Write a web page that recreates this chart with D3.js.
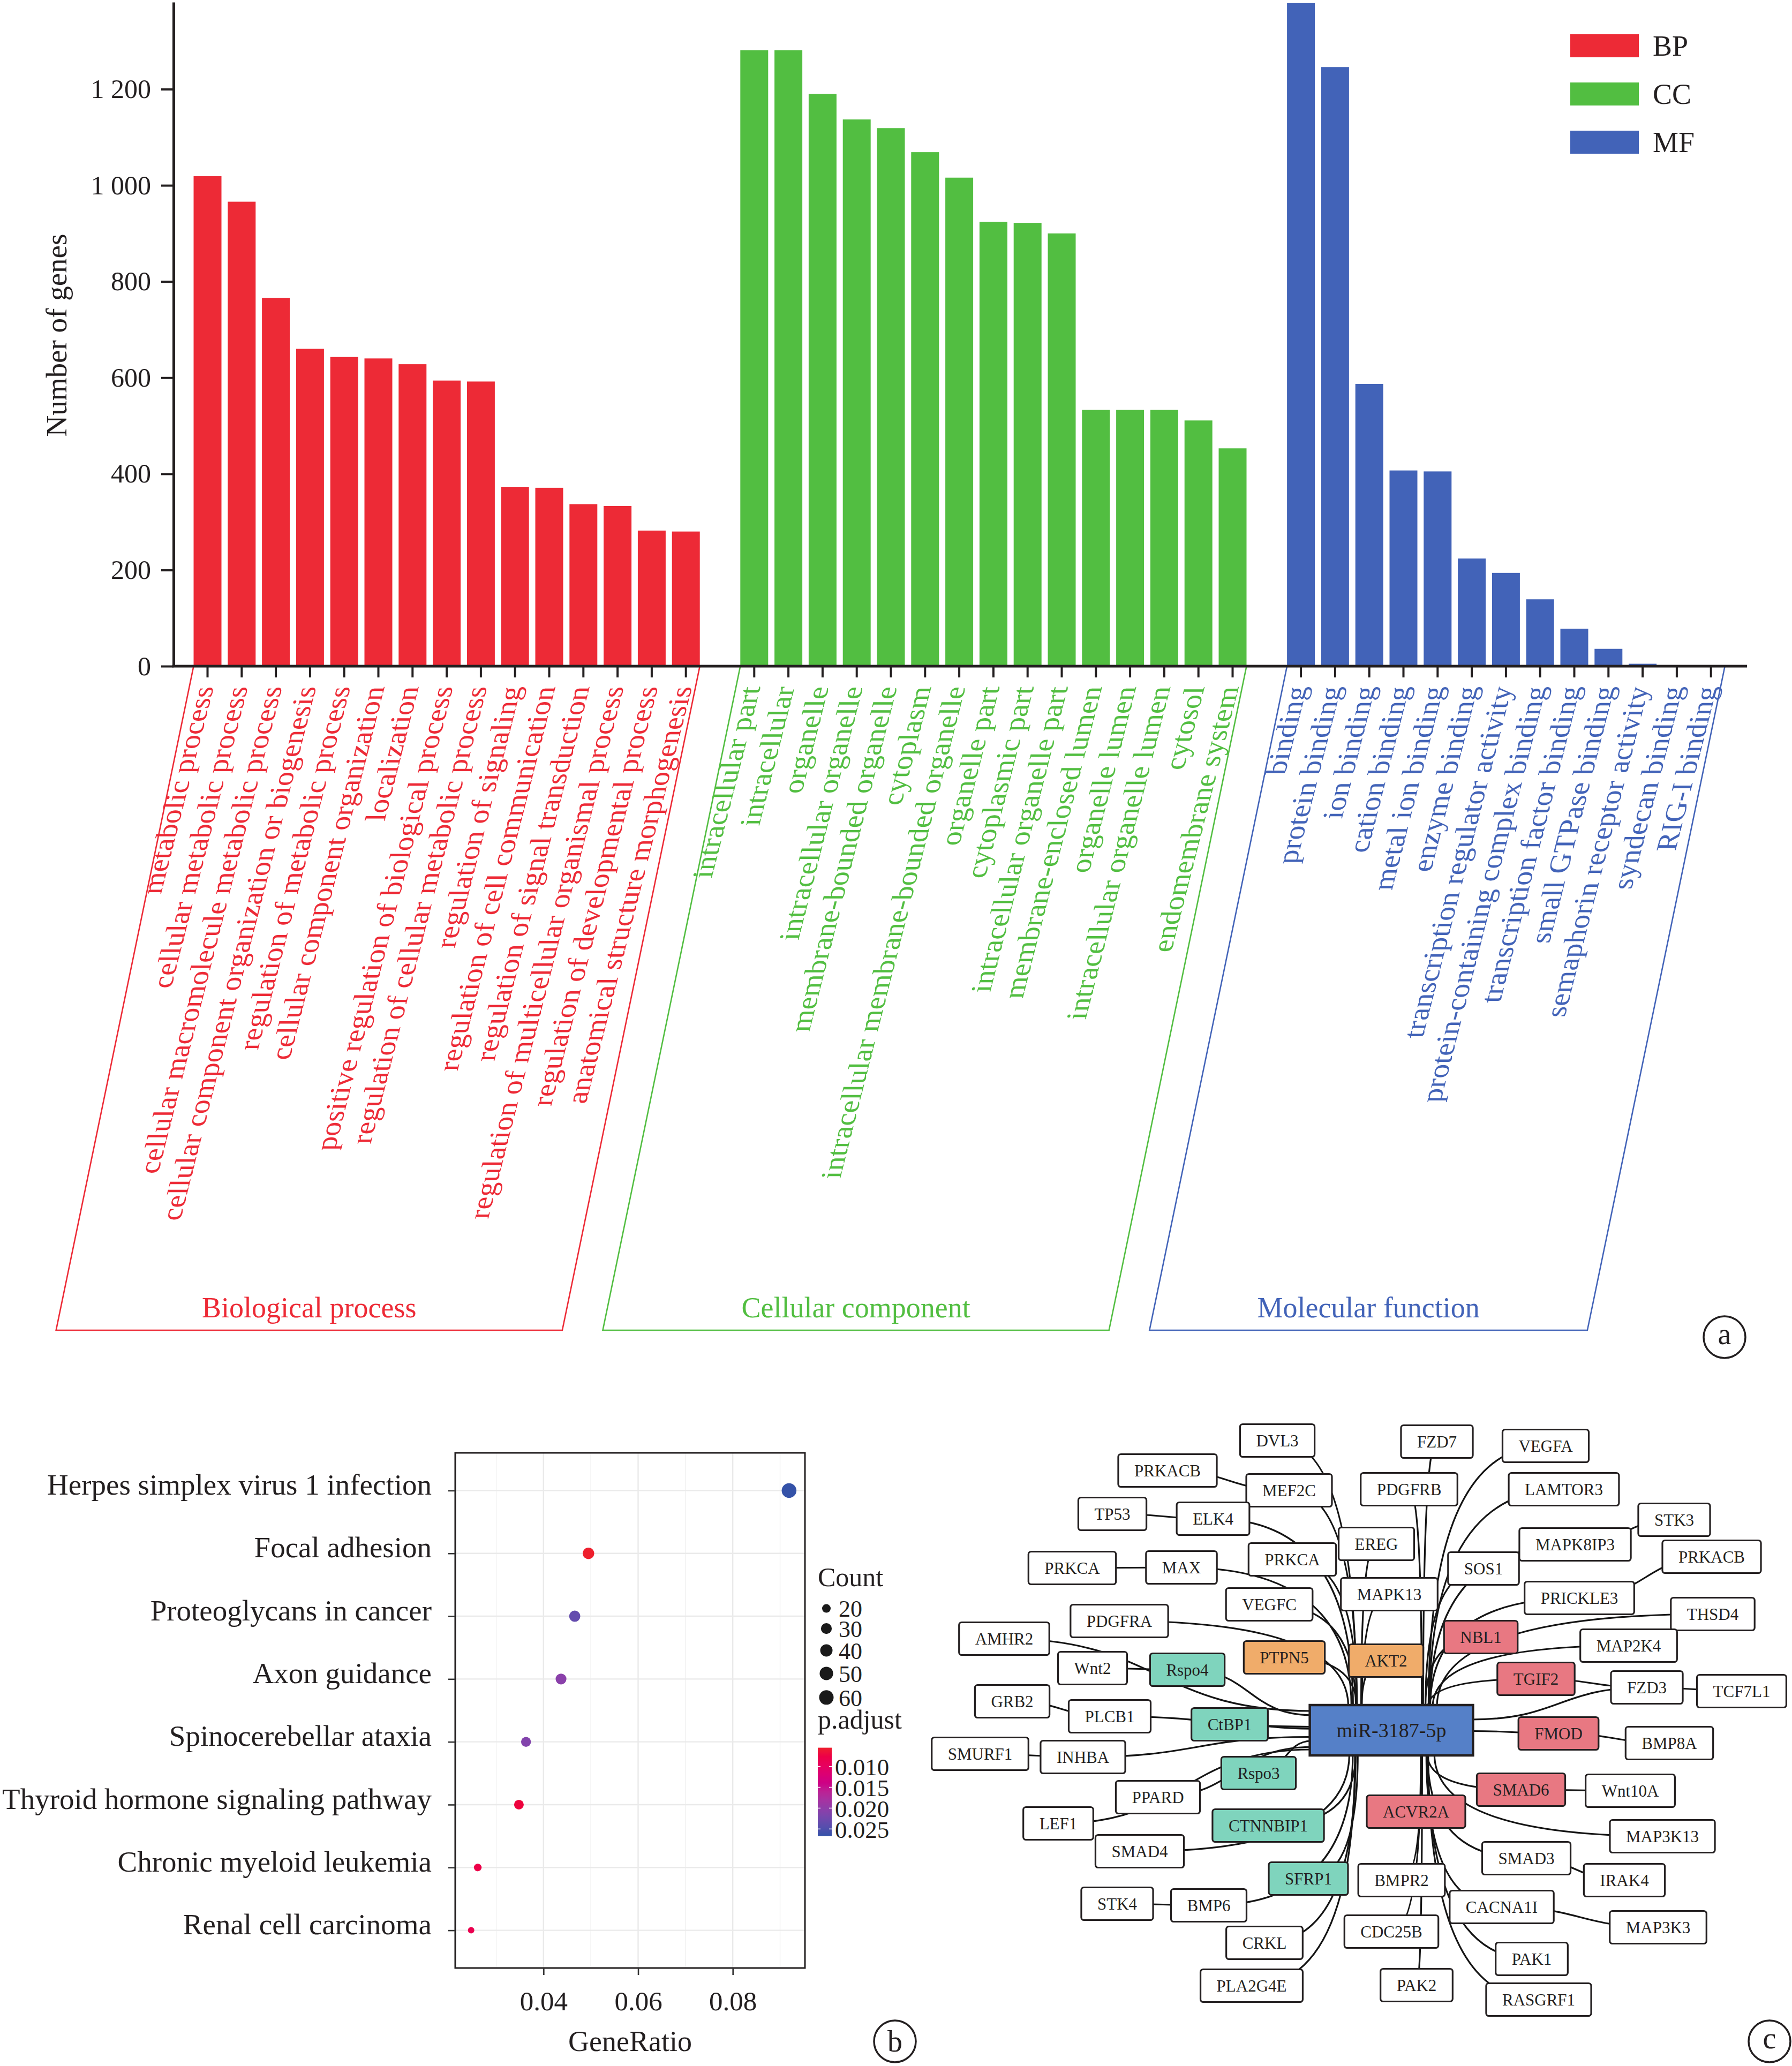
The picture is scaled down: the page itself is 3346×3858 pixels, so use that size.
<!DOCTYPE html>
<html>
<head>
<meta charset="utf-8">
<script src="https://cdn.jsdelivr.net/npm/d3@7"></script>
<style>
  body { margin: 0; background: #fff; }
  svg { display: block; }
</style>
</head>
<body>
<div id="chart"></div>
<script>
// ---------- panel a : GO terms ----------
var bpTerms = ["metabolic process", "cellular metabolic process", "cellular macromolecule metabolic process",
  "cellular component organization or biogenesis", "regulation of metabolic process", "cellular component organization",
  "localization", "positive regulation of biological process", "regulation of cellular metabolic process",
  "regulation of signaling", "regulation of cell communication", "regulation of signal transduction",
  "regulation of multicellular organismal process", "regulation of developmental process", "anatomical structure morphogenesis"];
var bpCounts = [1019, 966, 766, 660, 643, 640, 628, 594, 592, 373, 371, 337, 333, 282, 280];

var ccTerms = ["intracellular part", "intracellular", "organelle", "intracellular organelle", "membrane-bounded organelle",
  "cytoplasm", "intracellular membrane-bounded organelle", "organelle part", "cytoplasmic part", "intracellular organelle part",
  "membrane-enclosed lumen", "organelle lumen", "intracellular organelle lumen", "cytosol", "endomembrane system"];
var ccCounts = [1281, 1281, 1190, 1137, 1119, 1069, 1016, 924, 922, 900, 533, 533, 533, 511, 453];

var mfTerms = ["binding", "protein binding", "ion binding", "cation binding", "metal ion binding", "enzyme binding",
  "transcription regulator activity", "protein-containing complex binding", "transcription factor binding",
  "small GTPase binding", "semaphorin receptor activity", "syndecan binding", "RIG-I binding"];
var mfCounts = [1379, 1246, 587, 407, 405, 224, 194, 139, 78, 36, 5, 2, 1];

var yTicksA = [0, 200, 400, 600, 800, 1000, 1200];

// ---------- panel b : KEGG dot plot ----------
var pathways = ["Herpes simplex virus 1 infection", "Focal adhesion", "Proteoglycans in cancer", "Axon guidance",
  "Spinocerebellar ataxia", "Thyroid hormone signaling pathway", "Chronic myeloid leukemia", "Renal cell carcinoma"];
var geneRatio = [0.0919, 0.0495, 0.0466, 0.0437, 0.0363, 0.0348, 0.0261, 0.0247];
var geneCount = [63, 34, 32, 30, 25, 24, 18, 17];
var pAdjust = [0.0267, 0.0055, 0.0235, 0.0205, 0.0212, 0.0068, 0.0078, 0.0085];
var xTicksB = [0.04, 0.06, 0.08];
var countBreaks = [20, 30, 40, 50, 60];
var padjBreaks = [0.010, 0.015, 0.020, 0.025];

// ---------- panel c : miRNA network (layout coords) ----------
var netNodes = [
  ["miR", "miR-3187-5p", 898, 631, "mir"],
  ["DVL3", "DVL3", 685, 90, "w"], ["FZD7", "FZD7", 983, 92, "w"], ["VEGFA", "VEGFA", 1186, 100, "w"],
  ["PRKACB_L", "PRKACB", 480, 146, "w"], ["MEF2C", "MEF2C", 707, 183, "w"], ["PDGFRB", "PDGFRB", 931, 181, "w"],
  ["LAMTOR3", "LAMTOR3", 1220, 181, "w"], ["TP53", "TP53", 377, 227, "w"], ["ELK4", "ELK4", 565, 236, "w"],
  ["STK3", "STK3", 1426, 238, "w"], ["EREG", "EREG", 870, 283, "w"], ["MAPK8IP3", "MAPK8IP3", 1241, 284, "w"],
  ["PRKACB_R", "PRKACB", 1496, 307, "w"], ["PRKCA_L", "PRKCA", 302, 328, "w"], ["MAX", "MAX", 506, 327, "w"],
  ["PRKCA_M", "PRKCA", 713, 312, "w"], ["SOS1", "SOS1", 1070, 329, "w"], ["MAPK13", "MAPK13", 894, 377, "w"],
  ["VEGFC", "VEGFC", 670, 396, "w"], ["PRICKLE3", "PRICKLE3", 1249, 384, "w"], ["THSD4", "THSD4", 1498, 414, "w"],
  ["PDGFRA", "PDGFRA", 390, 427, "w"], ["NBL1", "NBL1", 1065, 457, "r"], ["AMHR2", "AMHR2", 175, 460, "w"],
  ["MAP2K4", "MAP2K4", 1341, 473, "w"], ["PTPN5", "PTPN5", 698, 495, "o"], ["AKT2", "AKT2", 888, 501, "o"],
  ["Wnt2", "Wnt2", 340, 515, "w"], ["Rspo4", "Rspo4", 517, 518, "t"], ["TGIF2", "TGIF2", 1168, 535, "r"],
  ["FZD3", "FZD3", 1375, 551, "w"], ["TCF7L1", "TCF7L1", 1552, 558, "w"], ["GRB2", "GRB2", 190, 577, "w"],
  ["PLCB1", "PLCB1", 372, 605, "w"], ["CtBP1", "CtBP1", 596, 620, "t"], ["FMOD", "FMOD", 1210, 637, "r"],
  ["BMP8A", "BMP8A", 1417, 655, "w"], ["SMURF1", "SMURF1", 130, 675, "w"], ["INHBA", "INHBA", 322, 681, "w"],
  ["Rspo3", "Rspo3", 650, 711, "t"], ["SMAD6", "SMAD6", 1140, 742, "r"], ["Wnt10A", "Wnt10A", 1344, 744, "w"],
  ["PPARD", "PPARD", 462, 756, "w"], ["ACVR2A", "ACVR2A", 944, 783, "r"], ["LEF1", "LEF1", 276, 805, "w"],
  ["CTNNBIP1", "CTNNBIP1", 668, 809, "t"], ["MAP3K13", "MAP3K13", 1404, 829, "w"], ["SMAD4", "SMAD4", 428, 857, "w"],
  ["SMAD3", "SMAD3", 1150, 870, "w"], ["SFRP1", "SFRP1", 743, 908, "t"], ["BMPR2", "BMPR2", 917, 911, "w"],
  ["IRAK4", "IRAK4", 1333, 911, "w"], ["STK4", "STK4", 386, 955, "w"], ["BMP6", "BMP6", 557, 958, "w"],
  ["CACNA1I", "CACNA1I", 1104, 961, "w"], ["MAP3K3", "MAP3K3", 1396, 999, "w"], ["CDC25B", "CDC25B", 898, 1007, "w"],
  ["CRKL", "CRKL", 661, 1028, "w"], ["PAK1", "PAK1", 1160, 1058, "w"], ["PLA2G4E", "PLA2G4E", 637, 1108, "w"],
  ["PAK2", "PAK2", 945, 1107, "w"], ["RASGRF1", "RASGRF1", 1173, 1134, "w"]
];
var mirTargets = ["DVL3", "FZD7", "VEGFA", "MEF2C", "PDGFRB", "LAMTOR3", "ELK4", "EREG", "MAPK8IP3", "PRKCA_M", "SOS1",
  "MAPK13", "VEGFC", "PRICKLE3", "THSD4", "PDGFRA", "NBL1", "AMHR2", "MAP2K4", "PTPN5", "AKT2", "Rspo4", "TGIF2", "FZD3",
  "CtBP1", "FMOD", "INHBA", "Rspo3", "SMAD6", "PPARD", "ACVR2A", "LEF1", "CTNNBIP1", "MAP3K13", "SMAD4", "SMAD3", "SFRP1",
  "BMPR2", "BMP6", "CACNA1I", "CDC25B", "CRKL", "PAK1", "PLA2G4E", "PAK2", "RASGRF1", "MAX", "PLCB1"];
var sideLinks = [["PRKACB_L", "MEF2C"], ["TP53", "ELK4"], ["PRKCA_L", "MAX"], ["Wnt2", "Rspo4"], ["GRB2", "PLCB1"],
  ["SMURF1", "INHBA"], ["STK4", "BMP6"], ["STK3", "MAPK8IP3"], ["TCF7L1", "FZD3"], ["BMP8A", "FMOD"],
  ["Wnt10A", "SMAD6"], ["IRAK4", "SMAD3"], ["MAP3K3", "CACNA1I"], ["PRKACB_R", "PRICKLE3"], ["TGIF2", "FZD3"]];

var SERIF = '"Liberation Serif","DejaVu Serif",serif';
var INK = "#231F20";

var svg = d3.select("#chart").append("svg")
  .attr("width", 3346).attr("height", 3858)
  .attr("font-family", SERIF);
svg.append("rect").attr("width", 3346).attr("height", 3858).attr("fill", "#fff");

// ================= panel a =================
var groups = [
  { key: "BP", title: "Biological process", terms: bpTerms, counts: bpCounts, color: "#ED2A36" },
  { key: "CC", title: "Cellular component", terms: ccTerms, counts: ccCounts, color: "#52BE41" },
  { key: "MF", title: "Molecular function", terms: mfTerms, counts: mfCounts, color: "#4263B8" }
];
var bandDomain = [];
groups.forEach(function (g, i) {
  if (i) bandDomain.push("__gap" + i);
  g.terms.forEach(function (t) { bandDomain.push(t); });
});

var axisY = 1244, axisX = 324;
var xA = d3.scaleBand().domain(bandDomain).range([355.6, 3226.6]).paddingInner(0.185).paddingOuter(0.0925);
var yA = d3.scaleLinear().domain([0, 1381]).range([axisY, 4]);
var gA = svg.append("g");

groups.forEach(function (g) {
  var rows = g.terms.map(function (t, i) { return { term: t, n: g.counts[i] }; });
  gA.selectAll(".bar-" + g.key).data(rows).enter().append("rect")
    .attr("x", function (d) { return xA(d.term); })
    .attr("y", function (d) { return yA(d.n); })
    .attr("width", xA.bandwidth())
    .attr("height", function (d) { return axisY - yA(d.n); })
    .attr("fill", g.color);

  // skewed labels under the axis
  gA.selectAll(".lab-" + g.key).data(rows).enter().append("text")
    .attr("transform", function (d) {
      return "translate(" + (xA(d.term) + xA.bandwidth() / 2) + ",1282) skewX(-14.3) rotate(-90)";
    })
    .attr("text-anchor", "end")
    .attr("dy", "0.22em")
    .attr("font-size", 54)
    .attr("fill", g.color)
    .text(function (d) { return d.term; });

  // parallelogram frame
  var x0 = xA(g.terms[0]), x1 = xA(g.terms[g.terms.length - 1]) + xA.bandwidth();
  var fy = 2484, shift = Math.tan(11.7 * Math.PI / 180) * (fy - axisY);
  gA.append("path")
    .attr("d", "M" + x0 + "," + axisY + "L" + (x0 - shift) + "," + fy + "L" + (x1 - shift) + "," + fy + "L" + x1 + "," + axisY)
    .attr("fill", "none").attr("stroke", g.color).attr("stroke-width", 2.6);
  gA.append("text")
    .attr("x", (x0 + x1) / 2 - shift).attr("y", 2460)
    .attr("text-anchor", "middle").attr("font-size", 54).attr("fill", g.color)
    .text(g.title);
});

var spaceFmt = d3.formatLocale({ decimal: ".", thousands: " ", grouping: [3], currency: ["", ""] }).format(",");
var gyA = gA.append("g").attr("transform", "translate(" + axisX + ",0)")
  .call(d3.axisLeft(yA).tickValues(yTicksA).tickFormat(spaceFmt).tickSize(23).tickPadding(19).tickSizeOuter(0))
  .attr("font-family", SERIF).attr("font-size", 50);
gyA.select(".domain").attr("stroke", INK).attr("stroke-width", 5);
gyA.selectAll(".tick line").attr("stroke", INK).attr("stroke-width", 4);
gyA.selectAll(".tick text").attr("fill", INK);

var allTerms = bpTerms.concat(ccTerms, mfTerms);
var gxA = gA.append("g").attr("transform", "translate(0," + axisY + ")")
  .call(d3.axisBottom(xA).tickValues(allTerms).tickFormat("").tickSize(21).tickSizeOuter(0));
gxA.select(".domain").remove();
gxA.selectAll(".tick line").attr("stroke", INK).attr("stroke-width", 4);
gA.append("line").attr("x1", axisX - 2.5).attr("x2", 3262).attr("y1", axisY).attr("y2", axisY)
  .attr("stroke", INK).attr("stroke-width", 5);

gA.append("text")
  .attr("transform", "translate(124,626) rotate(-90)")
  .attr("text-anchor", "middle").attr("font-size", 55).attr("fill", INK)
  .text("Number of genes");

// legend
var legA = gA.selectAll(".legA").data(groups).enter().append("g")
  .attr("transform", function (d, i) { return "translate(2932," + (64 + i * 90) + ")"; });
legA.append("rect").attr("width", 128).attr("height", 43).attr("fill", function (d) { return d.color; });
legA.append("text").attr("x", 154).attr("y", 40).attr("font-size", 54).attr("fill", INK)
  .text(function (d) { return d.key; });

function panelTag(cx, cy, letter) {
  svg.append("circle").attr("cx", cx).attr("cy", cy).attr("r", 39)
    .attr("fill", "#fff").attr("stroke", INK).attr("stroke-width", 3.5);
  svg.append("text").attr("x", cx).attr("y", cy).attr("dy", letter === "a" || letter === "c" ? "0.24em" : "0.34em")
    .attr("text-anchor", "middle").attr("font-size", 56).attr("fill", INK).text(letter);
}
panelTag(3220, 2497, "a");

// ================= panel b =================
var gB = svg.append("g");
var rExt = d3.extent(geneRatio), rPad = (rExt[1] - rExt[0]) * 0.05;
var xB = d3.scaleLinear().domain([rExt[0] - rPad, rExt[1] + rPad]).range([850, 1503]);
var yB = d3.scalePoint().domain(pathways).range([2713, 3675]).padding(0.6);
var cExt = d3.extent(geneCount);
var rScale = d3.scalePow().exponent(0.5).domain([0, cExt[1] - cExt[0]]).range([6, 13.75]);
var pExt = d3.extent(pAdjust);
var colB = d3.scaleLinear().domain(pExt).range(["#EE1F2D", "#3452A8"]).interpolate(d3.interpolateHcl);

// grid
var minorB = [0.03, 0.05, 0.07, 0.09];
gB.selectAll(".gminor").data(minorB).enter().append("line")
  .attr("x1", xB).attr("x2", xB).attr("y1", 2713).attr("y2", 3675)
  .attr("stroke", "#EFEFEF").attr("stroke-width", 1.3);
gB.selectAll(".gmajor").data(xTicksB).enter().append("line")
  .attr("x1", xB).attr("x2", xB).attr("y1", 2713).attr("y2", 3675)
  .attr("stroke", "#EAEAEA").attr("stroke-width", 2.4);
gB.selectAll(".grow").data(pathways).enter().append("line")
  .attr("x1", 850).attr("x2", 1503).attr("y1", yB).attr("y2", yB)
  .attr("stroke", "#EAEAEA").attr("stroke-width", 2.4);

var pts = pathways.map(function (p, i) {
  return { p: p, r: geneRatio[i], n: geneCount[i], q: pAdjust[i] };
});
gB.selectAll(".dot").data(pts).enter().append("circle")
  .attr("cx", function (d) { return xB(d.r); })
  .attr("cy", function (d) { return yB(d.p); })
  .attr("r", function (d) { return rScale(d.n - cExt[0]); })
  .attr("fill", function (d) { return colB(d.q); });

gB.append("rect").attr("x", 850).attr("y", 2713).attr("width", 653).attr("height", 962)
  .attr("fill", "none").attr("stroke", INK).attr("stroke-width", 3);

var gyB = gB.append("g").attr("transform", "translate(850,0)")
  .call(d3.axisLeft(yB).tickSize(13).tickPadding(31).tickSizeOuter(0))
  .attr("font-family", SERIF).attr("font-size", 55);
gyB.select(".domain").remove();
gyB.selectAll(".tick line").attr("stroke", "#333").attr("stroke-width", 2.6);
gyB.selectAll(".tick text").attr("fill", INK).attr("dy", "0.13em");

var gxB = gB.append("g").attr("transform", "translate(0,3675)")
  .call(d3.axisBottom(xB).tickValues(xTicksB).tickFormat(d3.format(".2f")).tickSize(13).tickPadding(30).tickSizeOuter(0))
  .attr("font-family", SERIF).attr("font-size", 51);
gxB.select(".domain").remove();
gxB.selectAll(".tick line").attr("stroke", "#333").attr("stroke-width", 2.6);
gxB.selectAll(".tick text").attr("fill", INK);

gB.append("text").attr("x", 1176.5).attr("y", 3830).attr("text-anchor", "middle")
  .attr("font-size", 54).attr("fill", INK).text("GeneRatio");

// size legend
gB.append("text").attr("x", 1527).attr("y", 2962).attr("font-size", 50).attr("fill", INK).text("Count");
var keyY = 3003.6, keys = [];
countBreaks.forEach(function (c, i) {
  var r = rScale(c - cExt[0]);
  if (i) keyY += 20.8 + 0.925 * (keys[i - 1].r + r);
  keys.push({ c: c, r: r, y: keyY });
});
var kg = gB.selectAll(".key").data(keys).enter().append("g");
kg.append("circle").attr("cx", 1543).attr("cy", function (d) { return d.y; })
  .attr("r", function (d) { return d.r; }).attr("fill", "#1A1A1A");
kg.append("text").attr("x", 1566).attr("y", function (d) { return d.y; }).attr("dy", "0.36em")
  .attr("font-size", 44).attr("fill", INK).text(function (d) { return d.c; });

// colour bar
gB.append("text").attr("x", 1527).attr("y", 3228).attr("font-size", 50).attr("fill", INK).text("p.adjust");
var cbY = d3.scaleLinear().domain(pExt).range([3263.6, 3428.6]);
var grad = svg.append("defs").append("linearGradient").attr("id", "padjGrad")
  .attr("x1", 0).attr("y1", 0).attr("x2", 0).attr("y2", 1);
d3.range(0, 1.0001, 0.1).forEach(function (t) {
  var v = pExt[0] + t * (pExt[1] - pExt[0]);
  grad.append("stop").attr("offset", t).attr("stop-color", colB(v));
});
gB.append("rect").attr("x", 1527).attr("y", cbY.range()[0]).attr("width", 26)
  .attr("height", cbY.range()[1] - cbY.range()[0]).attr("fill", "url(#padjGrad)");
gB.selectAll(".cbtl").data(padjBreaks).enter().append("line")
  .attr("x1", 1527).attr("x2", 1532).attr("y1", cbY).attr("y2", cbY).attr("stroke", "#fff").attr("stroke-width", 1.5);
gB.selectAll(".cbtr").data(padjBreaks).enter().append("line")
  .attr("x1", 1548).attr("x2", 1553).attr("y1", cbY).attr("y2", cbY).attr("stroke", "#fff").attr("stroke-width", 1.5);
gB.selectAll(".cblab").data(padjBreaks).enter().append("text")
  .attr("x", 1559).attr("y", cbY).attr("dy", "0.36em").attr("font-size", 45).attr("fill", INK)
  .text(d3.format(".3f"));

panelTag(1671, 3812, "b");

// ================= panel c =================
var gC = svg.append("g");
var xC = d3.scaleLinear().domain([0, 1646]).range([1700, 3346]);
var yC = d3.scaleLinear().domain([0, 1258]).range([2600, 3858]);
var fillC = { mir: "#5580C8", w: "#FFFFFF", r: "#E87882", o: "#F0AC6A", t: "#7FD4BD" };

var nodes = netNodes.map(function (n) {
  return { id: n[0], label: n[1], x: xC(n[2]), y: yC(n[3]), kind: n[4] };
});
var byId = {};
nodes.forEach(function (n) { byId[n.id] = n; });

var edgeLayer = gC.append("g");
var nodeLayer = gC.append("g");

var ng = nodeLayer.selectAll(".node").data(nodes).enter().append("g")
  .attr("transform", function (d) { return "translate(" + d.x + "," + d.y + ")"; });
var nbox = ng.append("rect");
var ntxt = ng.append("text")
  .attr("text-anchor", "middle").attr("dy", "0.35em")
  .attr("font-size", function (d) { return d.kind === "mir" ? 38 : 31; })
  .attr("fill", INK)
  .text(function (d) { return d.label; });
ntxt.each(function (d) {
  var len = this.getComputedTextLength();
  d.w = len + (d.kind === "mir" ? 100 : 60);
  d.h = d.kind === "mir" ? 94 : 61;
});
nbox.attr("x", function (d) { return -d.w / 2; }).attr("y", function (d) { return -d.h / 2; })
  .attr("width", function (d) { return d.w; }).attr("height", function (d) { return d.h; })
  .attr("rx", function (d) { return d.kind === "mir" ? 0 : 5; })
  .attr("fill", function (d) { return fillC[d.kind]; })
  .attr("stroke", INK).attr("stroke-width", function (d) { return d.kind === "mir" ? 4.5 : 3.2; });

var hub = byId["miR"];
function hubPath(s) {
  var dx = s.x - hub.x, dy = s.y - hub.y;
  var ex, ey;
  if (Math.abs(dy) > 0.35 * Math.abs(dx)) {
    ex = hub.x + (dx < 0 ? -1 : 1) * (55 + Math.min(Math.abs(dx), 700) * 0.05);
    ey = hub.y + (dy < 0 ? -1 : 1) * (hub.h / 2 - 3);
    return "M" + s.x + "," + s.y + "Q" + ex + "," + s.y + " " + ex + "," + ey;
  }
  ex = hub.x + (dx < 0 ? -1 : 1) * (hub.w / 2 - 3);
  ey = hub.y + Math.max(-36, Math.min(36, dy * 0.25));
  return d3.linkHorizontal()({ source: [s.x, s.y], target: [ex, ey] });
}
function sidePath(a, b) {
  if (Math.abs(b.y - a.y) < 0.5 * Math.abs(b.x - a.x))
    return d3.linkHorizontal()({ source: [a.x, a.y], target: [b.x, b.y] });
  return "M" + a.x + "," + a.y + "Q" + b.x + "," + a.y + " " + b.x + "," + b.y;
}

edgeLayer.selectAll(".hubedge").data(mirTargets).enter().append("path")
  .attr("d", function (id) { return hubPath(byId[id]); })
  .attr("fill", "none").attr("stroke", "#141414").attr("stroke-width", 3.2);
edgeLayer.selectAll(".sideedge").data(sideLinks).enter().append("path")
  .attr("d", function (p) { return sidePath(byId[p[0]], byId[p[1]]); })
  .attr("fill", "none").attr("stroke", "#141414").attr("stroke-width", 3.2);

panelTag(3304, 3812, "c");
</script>
</body>
</html>
